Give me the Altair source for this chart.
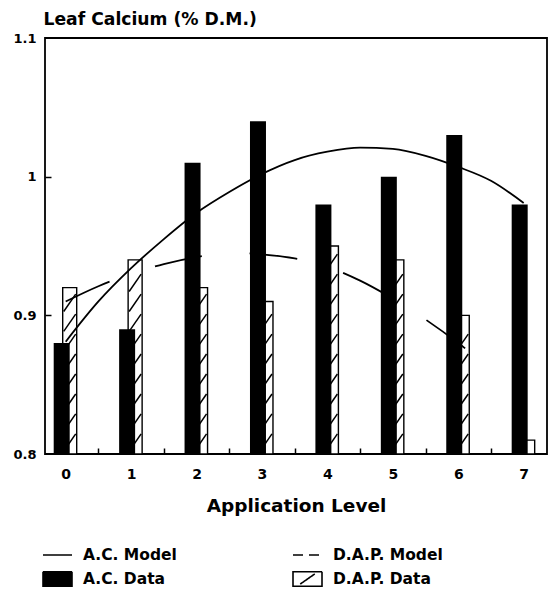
import altair as alt
import pandas as pd

# ---- data ----
levels = [0, 1, 2, 3, 4, 5, 6, 7]
ac_data = [0.88, 0.89, 1.01, 1.04, 0.98, 1.00, 1.03, 0.98]
dap_data = [0.92, 0.94, 0.92, 0.91, 0.95, 0.94, 0.90, 0.81]

ac_model_x = [0, 0.5, 1, 1.5, 2, 2.5, 3, 3.5, 4, 4.5, 5, 5.5, 6, 6.5, 7]
ac_model_y = [0.881, 0.910, 0.934, 0.955, 0.974, 0.989, 1.002, 1.012, 1.018,
              1.021, 1.020, 1.015, 1.007, 0.997, 0.981]

dap_model_x = [0, 0.5, 1, 1.5, 2, 2.5, 3, 3.5, 4, 4.5, 5, 5.5, 6, 6.5]
dap_model_y = [0.910, 0.921, 0.930, 0.937, 0.942, 0.945, 0.944, 0.941, 0.935,
               0.925, 0.912, 0.897, 0.880, 0.861]

series = ["A.C. Model", "A.C. Data", "D.A.P. Model", "D.A.P. Data"]
y_label_values = [0.8, 0.9, 1.0, 1.1]
y_tick_values = [0.9, 1.0]
x_tick_values = [0.5, 1.5, 2.5, 3.5, 4.5, 5.5, 6.5]

# ---- tables ----
bars = pd.DataFrame({"level": levels, "ac": ac_data, "dap": dap_data})
ac_model = pd.DataFrame({"x": ac_model_x, "y": ac_model_y})
dap_model = pd.DataFrame({"x": dap_model_x, "y": dap_model_y})
legend_df = pd.DataFrame({"series": series})

# hatch segments inside the D.A.P. bars (style derived from the bar values)
BASE = 0.8
hatch_rows = []
for lv, top in zip(levels, dap_data):
    y0 = BASE + 0.002
    while y0 + 0.0125 <= top - 0.001:
        hatch_rows.append({"level": lv, "y0": y0, "y1": y0 + 0.0125})
        y0 += 0.0144
hatch_df = pd.DataFrame(hatch_rows)

FONT = "DejaVu Sans"
x_scale = alt.Scale(domain=[-0.24, 7.28], nice=False, zero=False)
y_scale = alt.Scale(domain=[0.8, 1.1], nice=False, zero=False)

x_label_axis = alt.Axis(values=levels, format="d", ticks=False, tickSize=0, domain=False,
                        grid=False, orient="bottom", labelFontSize=14, labelPadding=13,
                        title="Application Level", titleFontSize=18.5, titlePadding=15)
y_label_axis = alt.Axis(values=y_label_values, format=".1~f", ticks=False, tickSize=0,
                        domain=False, grid=False, orient="left", labelFontSize=13,
                        labelPadding=9, title="Leaf Calcium (% D.M.)", titleAngle=0,
                        titleAlign="left", titleBaseline="alphabetic", titleX=-2,
                        titleY=-14, titleFontSize=17.2)
x_tick_axis = alt.Axis(values=x_tick_values, labels=False, domain=False, grid=False,
                       ticks=True, tickSize=6, tickWidth=1.5, offset=-6, orient="bottom",
                       title=None)
y_tick_axis = alt.Axis(values=y_tick_values, labels=False, domain=False, grid=False,
                       ticks=True, tickSize=6, tickWidth=1.5, offset=-6, orient="left",
                       title=None)

dap_bars = alt.Chart(bars).mark_bar(width=14, xOffset=4, fill="white", stroke="black",
                                    strokeWidth=1.4).encode(
    x=alt.X("level:Q", scale=x_scale, axis=x_label_axis),
    y=alt.Y("dap:Q", scale=y_scale, axis=y_label_axis),
    y2=alt.datum(BASE),
)

hatch = alt.Chart(hatch_df).mark_rule(xOffset=-2, x2Offset=10, strokeWidth=1.5,
                                      color="black").encode(
    x=alt.X("level:Q", scale=x_scale, axis=None),
    x2="level:Q",
    y=alt.Y("y0:Q", scale=y_scale, axis=None),
    y2="y1:Q",
)

ac_bars = alt.Chart(bars).mark_bar(width=16, xOffset=-4, color="black").encode(
    x=alt.X("level:Q", scale=x_scale, axis=x_tick_axis),
    y=alt.Y("ac:Q", scale=y_scale, axis=y_tick_axis),
    y2=alt.datum(BASE),
)

ac_line = alt.Chart(ac_model).mark_line(color="black", strokeWidth=1.8,
                                        interpolate="monotone").encode(
    x=alt.X("x:Q", scale=x_scale, axis=None),
    y=alt.Y("y:Q", scale=y_scale, axis=None),
)

dap_line = alt.Chart(dap_model).mark_line(color="black", strokeWidth=1.8,
                                          strokeDash=[48, 48],
                                          interpolate="monotone").encode(
    x=alt.X("x:Q", scale=x_scale, axis=None),
    y=alt.Y("y:Q", scale=y_scale, axis=None),
)

leg = alt.Legend(title=None, orient="none", legendX=-3, legendY=501.5, columns=2,
                 columnPadding=112, rowPadding=-5, padding=0, symbolSize=841,
                 symbolStrokeWidth=1.6, symbolStrokeColor="black", symbolOpacity=1,
                 labelOffset=10, labelFont=FONT, labelFontWeight="bold",
                 labelFontSize=15.5, labelColor="black", labelLimit=300)
shape_range = ["stroke", "M-1,-0.5H1V0.5H-1Z", "stroke",
               "M-1,-0.5H1V0.5H-1Z M-0.5,0.35L0.5,-0.35"]
fill_range = ["transparent", "black", "transparent", "white"]
stroke_range = ["black", "black", "black", "black"]
dash_range = [[1, 0], [1, 0], [10, 6], [1, 0]]

legend_layer = alt.Chart(legend_df).mark_point(size=0, opacity=1, strokeWidth=1.6).encode(
    shape=alt.Shape("series:N", scale=alt.Scale(domain=series, range=shape_range), legend=leg),
    fill=alt.Fill("series:N", scale=alt.Scale(domain=series, range=fill_range), legend=leg),
    stroke=alt.Stroke("series:N", scale=alt.Scale(domain=series, range=stroke_range),
                      legend=leg),
    strokeDash=alt.StrokeDash("series:N", scale=alt.Scale(domain=series, range=dash_range),
                              legend=leg),
)

chart = alt.layer(dap_bars, hatch, ac_bars, ac_line, dap_line, legend_layer).resolve_axis(
    x="independent", y="independent"
).properties(
    width=502, height=416, autosize="none",
    padding={"left": 45, "top": 38, "right": 1, "bottom": 146},
    background="white",
).configure_view(
    stroke="black", strokeWidth=1.8
).configure_axis(
    labelFont=FONT, labelFontWeight="bold", labelColor="black", tickColor="black",
    titleFont=FONT, titleFontWeight="bold", titleColor="black", domainColor="black",
)

chart.save("out.html", embed_options={"renderer": "svg", "actions": False})
